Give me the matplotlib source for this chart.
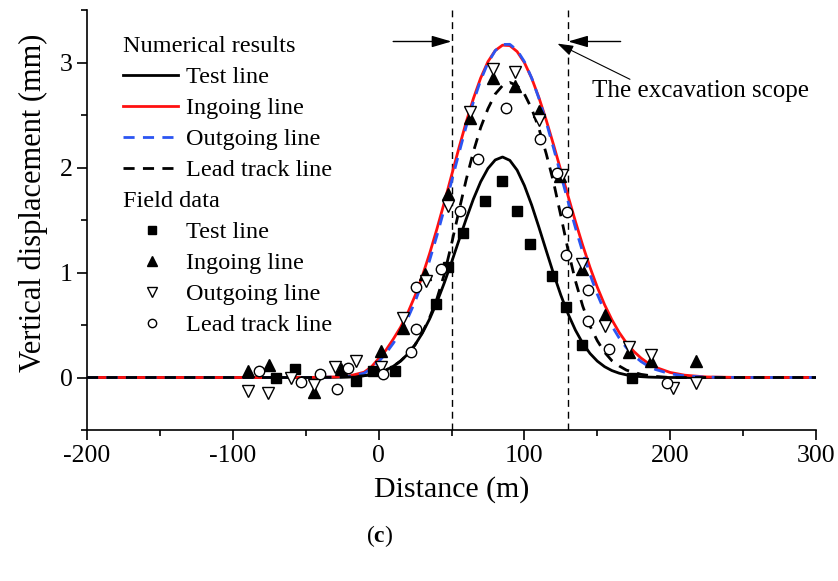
import matplotlib
matplotlib.use("Agg")
import matplotlib.pyplot as plt
from matplotlib.ticker import MultipleLocator, FuncFormatter

plt.rcParams["font.family"] = ["Liberation Serif", "DejaVu Serif"]
plt.rcParams["mathtext.fontset"] = "custom"
plt.rcParams["mathtext.rm"] = "Liberation Serif"
plt.rcParams["mathtext.bf"] = "Liberation Serif:bold"
plt.rcParams["axes.unicode_minus"] = False

# ---- numerical results (distance in m, vertical displacement in mm) ----
dist = [-200, -100, -50, -30, -20, -10, -5, 0, 5, 10, 15, 20, 25, 30, 35, 40, 45,
        50, 55, 60, 65, 70, 75, 80, 85, 90, 95, 100, 105, 110, 115, 120, 125, 130,
        135, 140, 145, 150, 155, 160, 165, 170, 175, 180, 185, 190, 200, 210, 225,
        250, 300]
test_num = [0, 0, 0, 0.002, 0.006, 0.017, 0.029, 0.046, 0.070, 0.106, 0.156, 0.223,
            0.311, 0.422, 0.558, 0.717, 0.899, 1.096, 1.303, 1.507, 1.699, 1.864,
            1.991, 2.072, 2.100, 2.068, 1.975, 1.828, 1.642, 1.429, 1.207, 0.988,
            0.784, 0.604, 0.451, 0.326, 0.229, 0.156, 0.103, 0.066, 0.041, 0.025,
            0.014, 0.008, 0.004, 0.002, 0, 0, 0, 0, 0]
ingoing_num = [0, 0, 0, 0.005, 0.015, 0.050, 0.100, 0.180, 0.260, 0.364, 0.477, 0.615,
               0.779, 0.967, 1.181, 1.415, 1.664, 1.923, 2.181, 2.429, 2.656, 2.852,
               3.008, 3.114, 3.165, 3.161, 3.104, 2.999, 2.850, 2.664, 2.450, 2.216,
               1.972, 1.726, 1.486, 1.259, 1.049, 0.860, 0.693, 0.550, 0.429, 0.329,
               0.249, 0.185, 0.135, 0.097, 0.048, 0.022, 0.005, 0, 0]
outgoing_num = [0, 0, 0, 0.004, 0.012, 0.040, 0.085, 0.150, 0.230, 0.325, 0.432, 0.564,
                0.722, 0.907, 1.117, 1.351, 1.602, 1.865, 2.130, 2.387, 2.624, 2.831,
                2.997, 3.113, 3.172, 3.173, 3.117, 3.008, 2.852, 2.656, 2.430, 2.184,
                1.929, 1.673, 1.426, 1.194, 0.981, 0.793, 0.629, 0.491, 0.376, 0.283,
                0.209, 0.152, 0.108, 0.076, 0.035, 0.015, 0.003, 0, 0]
lead_num = [0, 0, 0, 0.002, 0.006, 0.017, 0.029, 0.046, 0.070, 0.106, 0.156, 0.223,
            0.311, 0.430, 0.570, 0.750, 0.980, 1.270, 1.580, 1.880, 2.150, 2.380,
            2.560, 2.700, 2.780, 2.810, 2.780, 2.700, 2.560, 2.370, 2.130, 1.860,
            1.540, 1.210, 0.920, 0.680, 0.490, 0.350, 0.240, 0.160, 0.110, 0.070,
            0.050, 0.030, 0.020, 0.010, 0, 0, 0, 0, 0]

# ---- field data ----
test_fx = [-70.3, -57.4, -15.3, -3.8, 11.0, 39.6, 47.6, 58.0, 72.8, 84.5, 95.1,
           104.0, 119.0, 128.5, 139.2, 173.8]
test_fy = [0.00, 0.08, -0.03, 0.06, 0.06, 0.70, 1.05, 1.38, 1.68, 1.87, 1.59,
           1.27, 0.97, 0.67, 0.31, 0.00]
ingoing_fx = [-89.8, -74.9, -44.0, -26.0, 1.5, 16.7, 31.9, 47.6, 62.8, 78.6, 93.7,
              109.8, 124.7, 139.5, 155.6, 171.6, 186.5, 217.4]
ingoing_fy = [0.06, 0.12, -0.14, 0.08, 0.25, 0.47, 0.99, 1.75, 2.47, 2.85, 2.78,
              2.54, 1.92, 1.03, 0.60, 0.24, 0.155, 0.155]
outgoing_fx = [-89.8, -76.0, -60.0, -44.0, -30.0, -15.3, 1.8, 16.7, 32.7, 47.6, 62.8,
               78.6, 93.7, 109.8, 125.8, 139.5, 155.6, 171.6, 186.5, 202.0, 218.0]
outgoing_fy = [-0.13, -0.15, 0.00, -0.07, 0.10, 0.155, 0.10, 0.57, 0.92, 1.63, 2.53,
               2.94, 2.91, 2.45, 1.93, 1.08, 0.49, 0.29, 0.21, -0.10, -0.05]
lead_fx = [-81.7, -53.0, -40.5, -28.7, -20.8, 3.0, 22.5, 25.9, 25.9, 43.0, 56.0,
           67.9, 87.6, 111.0, 122.4, 129.2, 128.5, 143.8, 143.8, 157.7, 197.9]
lead_fy = [0.06, -0.04, 0.03, -0.11, 0.09, 0.03, 0.24, 0.46, 0.86, 1.03, 1.59,
           2.08, 2.57, 2.27, 1.95, 1.58, 1.17, 0.83, 0.54, 0.27, -0.05]

scope_bounds = [50, 130]

num_labels = ["Test line", "Ingoing line", "Outgoing line", "Lead track line"]
field_labels = ["Test line", "Ingoing line", "Outgoing line", "Lead track line"]

BLUE = "#2b55f2"
RED = "#ff1010"

fig = plt.figure(figsize=(8.38, 5.81), dpi=100)
ax = fig.add_axes([87 / 838, 151 / 581, 729 / 838, 420 / 581])

# model curves
line_styles = [
    dict(color="black", lw=2.0),
    dict(color=RED, lw=2.0),
    dict(color=BLUE, lw=2.0, dashes=(4, 3)),
    dict(color="black", lw=2.0, dashes=(4, 3)),
]
for ys, st in zip([test_num, ingoing_num, outgoing_num, lead_num], line_styles):
    ax.plot(dist, ys, zorder=3, **st)

# field measurements
marker_styles = [
    dict(marker="s", ms=6.5, mfc="black", mec="black", mew=1),
    dict(marker="^", ms=8.5, mfc="black", mec="black", mew=1),
    dict(marker="v", ms=8.5, mfc="white", mec="black", mew=1),
    dict(marker="o", ms=7.5, mfc="white", mec="black", mew=1),
]
for xs, ys, st in zip([test_fx, ingoing_fx, outgoing_fx, lead_fx],
                      [test_fy, ingoing_fy, outgoing_fy, lead_fy], marker_styles):
    ax.plot(xs, ys, ls="none", zorder=4, **st)

# excavation scope
for xb in scope_bounds:
    ax.axvline(xb, color="black", lw=1.0, ls=(0, (5, 3.5)), zorder=2)

arrow_kw = dict(arrowstyle="-|>,head_length=0.75,head_width=0.22",
                color="black", lw=1.0, shrinkA=0, shrinkB=0, mutation_scale=16)
ax.annotate("", xy=(scope_bounds[0], 3.2), xytext=(10, 3.2), arrowprops=arrow_kw)
ax.annotate("", xy=(scope_bounds[1], 3.2), xytext=(166, 3.2), arrowprops=arrow_kw)
ax.annotate("", xy=(122.7, 3.18), xytext=(172.4, 2.84),
            arrowprops=dict(arrowstyle="-|>,head_length=0.6,head_width=0.2",
                            color="black", lw=0.8, shrinkA=0, shrinkB=0,
                            mutation_scale=16))
ax.text(146.3, 2.676, "The excavation scope", fontsize=18, ha="left", va="baseline")

ax.set_xlim(-200, 300)
ax.set_ylim(-0.5, 3.5)
ax.xaxis.set_major_locator(MultipleLocator(100))
ax.xaxis.set_minor_locator(MultipleLocator(50))
ax.yaxis.set_major_locator(MultipleLocator(1))
ax.yaxis.set_minor_locator(MultipleLocator(0.5))
fmt = FuncFormatter(lambda v, p: f"{v:g}")
ax.xaxis.set_major_formatter(fmt)
ax.yaxis.set_major_formatter(fmt)
ax.tick_params(which="major", direction="out", length=7.5, width=1.2,
               labelsize=18.5, pad=3)
ax.tick_params(which="minor", direction="out", length=4, width=1.2)
for side in ("top", "right"):
    ax.spines[side].set_visible(False)
for side in ("left", "bottom"):
    ax.spines[side].set_linewidth(1.2)

ax.set_xlabel("Distance (m)", fontsize=21.5)
ax.set_ylabel("Vertical displacement (mm)", fontsize=22)
ax.xaxis.label.set_va("center")
ax.yaxis.label.set_va("center")
ax.xaxis.set_label_coords(0.5, (430 - 490) / 420)
ax.yaxis.set_label_coords((33 - 87) / 729, (430 - 203) / 420)


# key drawn inside the axes
def apos(px, py):
    return (px - 87) / 729, (430 - py) / 420


kt = dict(transform=ax.transAxes, fontsize=17.5, ha="left", va="baseline")
ax.text(*apos(123, 52.3), "Numerical results", **kt)
for i, (lab, st) in enumerate(zip(num_labels, line_styles)):
    base = 83.3 + 31 * i
    x0, y0 = apos(123, base - 8)
    x1, _ = apos(178, base - 8)
    ax.plot([x0, x1], [y0, y0], transform=ax.transAxes, clip_on=False, **st)
    ax.text(*apos(186, base), lab, **kt)
ax.text(*apos(123, 207.3), "Field data", **kt)
for i, (lab, st) in enumerate(zip(field_labels, marker_styles)):
    base = 238.3 + 31 * i
    st2 = dict(st)
    st2["ms"] = st["ms"] * 0.8
    mx, my = apos(151.5, base - 8)
    ax.plot([mx], [my], ls="none", transform=ax.transAxes, clip_on=False, **st2)
    ax.text(*apos(186, base), lab, **kt)

fig.text(380 / 838, 1 - 536 / 581, r"($\mathbf{c}$)", fontsize=17,
         ha="center", va="center")

fig.savefig("out.png", dpi=100)
